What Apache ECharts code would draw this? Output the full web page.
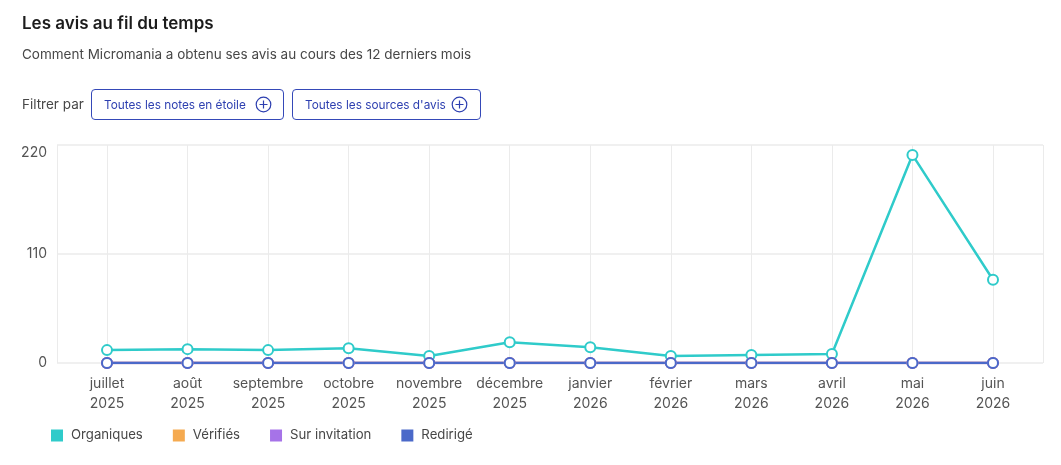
<!DOCTYPE html>
<html><head><meta charset="utf-8">
<script src="https://cdn.jsdelivr.net/npm/echarts@6/dist/echarts.min.js"></script>
<style>
html,body{margin:0;padding:0;background:#fff;font-family:Inter,"Noto Sans",sans-serif;}
#wrap{position:relative;width:1061px;height:465px;overflow:hidden;}
#chart{position:absolute;left:0;top:0;width:1061px;height:465px;}
.t{position:absolute;white-space:nowrap;}
#title{left:22px;top:13px;font-size:17px;font-weight:600;color:#1c1c1c;}
#sub{left:22px;top:46px;font-size:13.5px;color:#474747;}
#filt{left:22px;top:96px;font-size:13.5px;color:#474747;}
.btn{position:absolute;top:89px;height:31px;border:1px solid #3549b8;border-radius:4px;box-sizing:border-box;color:#2d3fb0;font-size:11.8px;display:flex;align-items:center;padding-left:12px;}
.btn svg{position:absolute;top:6px;}
</style></head>
<body><div id="wrap">
<div id="chart"></div>
<div class="t" id="title">Les avis au fil du temps</div>
<div class="t" id="sub">Comment Micromania a obtenu ses avis au cours des 12 derniers mois</div>
<div class="t" id="filt">Filtrer par</div>
<div class="btn" style="left:91px;width:193px;">Toutes les notes en étoile<svg style="left:163px" width="17" height="17" viewBox="0 0 17 17"><circle cx="8.5" cy="8.5" r="7.3" fill="none" stroke="#2d3fb0" stroke-width="1.2"/><path d="M8.5 4.5V12.5M4.5 8.5H12.5" stroke="#2d3fb0" stroke-width="1.2"/></svg></div>
<div class="btn" style="left:292px;width:189px;">Toutes les sources d'avis<svg style="left:158px" width="17" height="17" viewBox="0 0 17 17"><circle cx="8.5" cy="8.5" r="7.3" fill="none" stroke="#2d3fb0" stroke-width="1.2"/><path d="M8.5 4.5V12.5M4.5 8.5H12.5" stroke="#2d3fb0" stroke-width="1.2"/></svg></div>
</div>
<script>
const months = ['juillet\n2025','août\n2025','septembre\n2025','octobre\n2025','novembre\n2025','décembre\n2025','janvier\n2026','février\n2026','mars\n2026','avril\n2026','mai\n2026','juin\n2026'];
const organiques = [13,14,13,15,7,21,16,7,8,9,210,84];
const verifies = [0,0,0,0,0,0,0,0,0,0,0,0];
const surInvitation = [0,0,0,0,0,0,0,0,0,0,0,0];
const redirige = [0,0,0,0,0,0,0,0,0,0,0,0];
const yTicks = {min:0, max:220, interval:110};

const colors = {org:'#2fcbca', ver:'#f5aa50', inv:'#a673e8', red:'#4b69c9'};
const font = 'Inter, "Noto Sans", sans-serif';
const chart = echarts.init(document.getElementById('chart'), null, {renderer:'canvas'});

function mk(name, data, color){
  return {name, type:'line', data, xAxisIndex:1, yAxisIndex:1,
    symbol:'circle', symbolSize:10, showSymbol:true,
    lineStyle:{color, width:2.5},
    itemStyle:{color:'#fff', borderColor:color, borderWidth:2},
    emphasis:{disabled:true}, animation:false};
}

chart.setOption({
  animation:false,
  grid:[
    {left:57, right:18, top:145, bottom:102},
    {left:107, right:68, top:145, bottom:102}
  ],
  xAxis:[
    {type:'value', gridIndex:0, min:0, max:1, interval:1, axisLabel:{show:false}, axisTick:{show:false}, axisLine:{show:false},
     splitLine:{show:true, lineStyle:{color:'#ebebeb', width:1}}},
    {type:'category', gridIndex:1, data:months, boundaryGap:false,
     axisLine:{show:false}, axisTick:{show:false},
     axisLabel:{color:'#545454', fontSize:14, lineHeight:20, margin:11, fontFamily:font, interval:0},
     splitLine:{show:true, lineStyle:{color:'#ebebeb', width:1}}}
  ],
  yAxis:[
    {type:'value', gridIndex:0, min:yTicks.min, max:yTicks.max, interval:yTicks.interval,
     axisLine:{show:false}, axisTick:{show:false},
     axisLabel:{color:'#545454', fontSize:14, margin:10, fontFamily:font,
       formatter:(v)=> v===yTicks.max ? '{top|'+v+'}' : String(v),
       rich:{top:{color:'#545454', fontSize:14, fontFamily:font, padding:[16,0,0,0]}}},
     splitLine:{show:true, lineStyle:{color:'#ebebeb', width:1.5}}},
    {type:'value', gridIndex:1, min:yTicks.min, max:yTicks.max, interval:yTicks.interval, show:false, splitLine:{show:false}}
  ],
  legend:{left:51, top:429, padding:0, itemWidth:12, itemHeight:12, itemGap:30, icon:'rect',
    textStyle:{color:'#474747', fontSize:13.2, fontFamily:font, padding:[0,0,0,3]},
    itemStyle:{borderWidth:0},
    data:[
      {name:'Organiques', itemStyle:{color:colors.org}},
      {name:'Vérifiés', itemStyle:{color:colors.ver}},
      {name:'Sur invitation', itemStyle:{color:colors.inv}},
      {name:'Redirigé', itemStyle:{color:colors.red}}
    ]},
  series:[
    mk('Organiques', organiques, colors.org),
    mk('Vérifiés', verifies, colors.ver),
    mk('Sur invitation', surInvitation, colors.inv),
    mk('Redirigé', redirige, colors.red)
  ]
});
</script>
</body></html>
